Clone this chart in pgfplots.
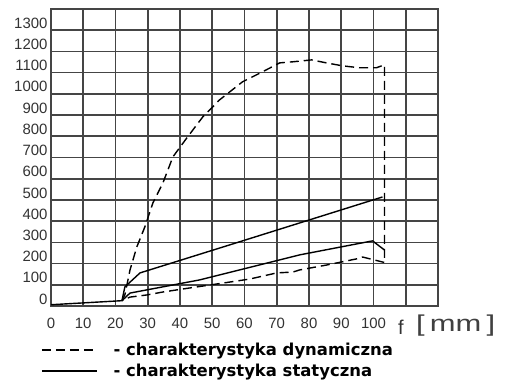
\documentclass[border=0pt]{standalone}
\usepackage{fontspec}
\setmainfont{Liberation Sans}
\newfontfamily\legfont{DejaVu Sans}
\usepackage{pgfplots}
\pgfplotsset{compat=1.18}
\definecolor{gridc}{HTML}{454545}
\begin{document}
\begin{tikzpicture}
\useasboundingbox (-51bp,-83bp) rectangle (456bp,306bp);
\begin{axis}[
  anchor=south west, at={(0,0)},
  scale only axis, width=387bp, height=297bp,
  xmin=0, xmax=120, ymin=0, ymax=1400,
  xtick={0,10,...,120},
  xticklabels={0,10,20,30,40,50,60,70,80,90,100,,},
  ytick={0,100,...,1400},
  yticklabels={0,100,200,300,400,500,600,700,800,900,1000,1100,1200,1300,},
  grid=major,
  major grid style={gridc, line width=1.7bp},
  axis line style={gridc, line width=2bp},
  major tick length=0pt,
  tick label style={font=\fontsize{15}{15}\selectfont, text=black!80},
  yticklabel style={yshift=7bp, xshift=0bp},
  xticklabel style={yshift=-9bp},
  clip=false,
  legend style={at={(0,0)}, anchor=north west, xshift=-10bp, yshift=-35bp,
    draw=none, fill=none, inner sep=0pt, row sep=3bp,
    font=\legfont\bfseries\fontsize{16.5}{19}\selectfont,
    /tikz/every odd column/.append style={column sep=14bp}},
  legend cell align=left,
  legend image code/.code={\draw[#1] (0bp,0bp) -- (55bp,0bp);},
]
% dynamic characteristic (loop)
\addplot[black, line width=1.4bp, dash pattern=on 9bp off 5bp, line join=round] coordinates {
 (22,25) (22.9,52) (24.5,170) (26.6,278) (29.1,373) (31.6,486) (34.7,580)
 (37.8,703) (42.1,792) (47.1,892) (52.3,972) (59.4,1057) (65.6,1104)
 (70.9,1146) (74.9,1151) (80.8,1160) (85.4,1146) (90.4,1132) (95.7,1123)
 (100.9,1123) (103.4,1137) (103.4,205) (96.6,231) (94.7,222) (85.4,193)
 (77.1,170) (75,160) (70,156) (61.6,127) (53.3,108) (43,85) (34.7,66)
 (29.7,52) (24.5,42) (22,25)
};
\addlegendentry{- charakterystyka dynamiczna}
% static characteristic
\addplot[black, line width=1.4bp, line join=round] coordinates {
 (0,6) (22,25) (22.9,90) (27.6,156) (55.4,288) (102.8,514)
};
\addlegendentry{- charakterystyka statyczna}
\addplot[black, line width=1.4bp, line join=round, forget plot] coordinates {
 (22,25) (24.5,61) (46.1,123) (77.1,241) (99.7,307) (103.4,264)
};
\node[font=\fontsize{20}{20}\selectfont, text=black!80, anchor=center] at (axis cs:108.5,0) [yshift=-21bp] {f};
\node[font=\fontsize{23}{23}\selectfont, text=black!75, anchor=center] at (axis cs:125.5,0) [yshift=-20bp] {\scalebox{1.35}[1]{[\,mm\,]}};
\end{axis}
\end{tikzpicture}
\end{document}
